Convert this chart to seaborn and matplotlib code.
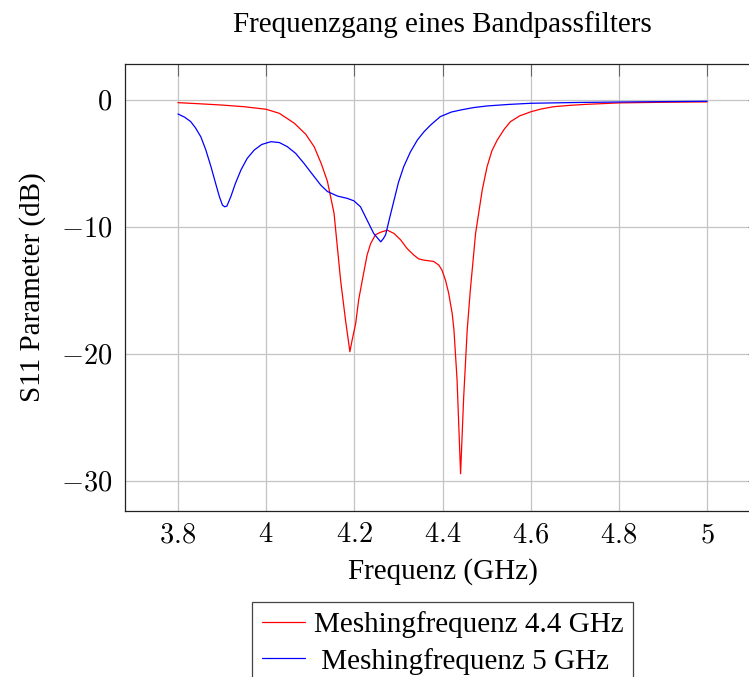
import matplotlib
matplotlib.use("Agg")
import matplotlib.pyplot as plt
import seaborn as sns
import pandas as pd
from matplotlib.ticker import FuncFormatter, FixedLocator
from matplotlib.lines import Line2D

# ---- data ----
freq_44 = [3.80, 3.85, 3.90, 3.95, 4.00, 4.03, 4.064, 4.09, 4.109, 4.125,
           4.139, 4.154, 4.169, 4.180, 4.190, 4.195, 4.203, 4.210, 4.218, 4.229,
           4.237, 4.248, 4.260, 4.275, 4.290, 4.305, 4.320, 4.335, 4.346, 4.358,
           4.380, 4.392, 4.399, 4.407, 4.414, 4.422, 4.426, 4.433, 4.441, 4.448,
           4.456, 4.463, 4.475, 4.490, 4.501, 4.512, 4.524, 4.540, 4.554, 4.575,
           4.601, 4.625, 4.652, 4.690, 4.728, 4.80, 4.90, 5.00]
s11_44 = [-0.21, -0.30, -0.40, -0.53, -0.73, -1.05, -1.83, -2.70, -3.68, -5.00,
          -6.40, -8.90, -14.2, -17.3, -19.8, -18.9, -17.6, -15.7, -14.2, -12.2,
          -11.3, -10.6, -10.4, -10.24, -10.5, -11.0, -11.7, -12.2, -12.5, -12.6,
          -12.7, -13.0, -13.4, -14.2, -15.2, -16.8, -18.1, -22.0, -29.4, -23.4,
          -18.1, -15.0, -10.5, -7.1, -5.26, -4.0, -3.16, -2.3, -1.71, -1.25,
          -0.92, -0.70, -0.53, -0.42, -0.34, -0.23, -0.18, -0.15]

freq_5 = [3.800, 3.815, 3.829, 3.840, 3.852, 3.863, 3.875, 3.885, 3.894, 3.901,
          3.906, 3.911, 3.920, 3.930, 3.943, 3.957, 3.973, 3.990, 4.011, 4.030,
          4.048, 4.067, 4.086, 4.105, 4.124, 4.139, 4.162, 4.184, 4.199, 4.214,
          4.229, 4.244, 4.260, 4.266, 4.271, 4.280, 4.290, 4.300, 4.312, 4.327,
          4.343, 4.358, 4.373, 4.395, 4.420, 4.441, 4.470, 4.501, 4.550, 4.600,
          4.700, 4.800, 4.900, 5.000]
s11_5 = [-1.10, -1.35, -1.70, -2.20, -2.90, -3.90, -5.25, -6.50, -7.60, -8.27,
         -8.40, -8.35, -7.60, -6.60, -5.50, -4.60, -3.94, -3.50, -3.28, -3.35,
         -3.67, -4.20, -4.99, -5.85, -6.70, -7.20, -7.56, -7.74, -7.93, -8.40,
         -9.45, -10.5, -11.16, -10.9, -10.6, -9.30, -7.90, -6.50, -5.25, -4.10,
         -3.15, -2.50, -1.97, -1.31, -0.95, -0.79, -0.60, -0.47, -0.35, -0.26,
         -0.20, -0.16, -0.13, -0.10]

series_labels = ["Meshingfrequenz 4.4 GHz", "Meshingfrequenz 5 GHz"]
series_colors = ["#ff0000", "#0000ff"]
x_ticks = [3.8, 4.0, 4.2, 4.4, 4.6, 4.8, 5.0]
y_ticks = [0, -10, -20, -30]

title_text = "Frequenzgang eines Bandpassfilters"
x_label = "Frequenz (GHz)"
y_label = "S11 Parameter (dB)"

df = pd.concat([
    pd.DataFrame({"freq": freq_44, "s11": s11_44, "series": series_labels[0]}),
    pd.DataFrame({"freq": freq_5, "s11": s11_5, "series": series_labels[1]}),
], ignore_index=True)

# ---- styling ----
sns.set_theme(style="white")
plt.rcParams["font.family"] = ["Liberation Serif", "DejaVu Serif"]
plt.rcParams["mathtext.fontset"] = "cm"
plt.rcParams["text.color"] = "black"
plt.rcParams["axes.labelcolor"] = "black"
plt.rcParams["xtick.labelcolor"] = "black"
plt.rcParams["ytick.labelcolor"] = "black"

FS = 21
W, H = 749, 677
fig = plt.figure(figsize=(W / 100, H / 100), dpi=100)
ax_left, ax_right, ax_top, ax_bottom = 125, 760, 64, 511
ax = fig.add_axes([ax_left / W, 1 - ax_bottom / H,
                   (ax_right - ax_left) / W, (ax_bottom - ax_top) / H])

sns.lineplot(data=df, x="freq", y="s11", hue="series",
             palette=dict(zip(series_labels, series_colors)),
             estimator=None, sort=False, linewidth=0.9, ax=ax, legend=False)

ax.set_xlim(3.68, 5.12)
ax.set_ylim(-32.33, 2.83)
ax.xaxis.set_major_locator(FixedLocator(x_ticks))
ax.yaxis.set_major_locator(FixedLocator(y_ticks))
fmt = FuncFormatter(lambda v, p: "$%s$" % ("%g" % v))
ax.xaxis.set_major_formatter(fmt)
ax.yaxis.set_major_formatter(fmt)

ax.grid(True, color="#c4c4c4", linewidth=0.9)
ax.set_axisbelow(True)
ax.tick_params(direction="in", length=8.5, width=0.8, color="#666666",
               labelcolor="black", top=True, right=True, labelsize=20.5)
ax.tick_params(axis="x", pad=9)
ax.tick_params(axis="y", pad=9)
for sp in ax.spines.values():
    sp.set_color("#222222")
    sp.set_linewidth(0.9)

ax.set_title(title_text, fontsize=FS, pad=23, color="black")
ax.set_xlabel(x_label, fontsize=FS, labelpad=7, color="black")
ax.set_ylabel(y_label, fontsize=FS, labelpad=11, color="black")

handles = [Line2D([], [], color=c, linewidth=0.9) for c in series_colors]
leg_labels = [series_labels[0], " " + series_labels[1]]
leg = fig.legend(handles, leg_labels, loc="upper center",
                 bbox_to_anchor=(442.5 / W, 1 - 602 / H),
                 fontsize=FS, frameon=True, fancybox=False,
                 edgecolor="#444444", framealpha=1,
                 handlelength=1.5, handletextpad=0.28,
                 labelspacing=0.32, borderpad=0.32, borderaxespad=0)
leg.get_frame().set_linewidth(0.9)
for t in leg.get_texts():
    t.set_color("black")

fig.savefig("out.png", dpi=100)
